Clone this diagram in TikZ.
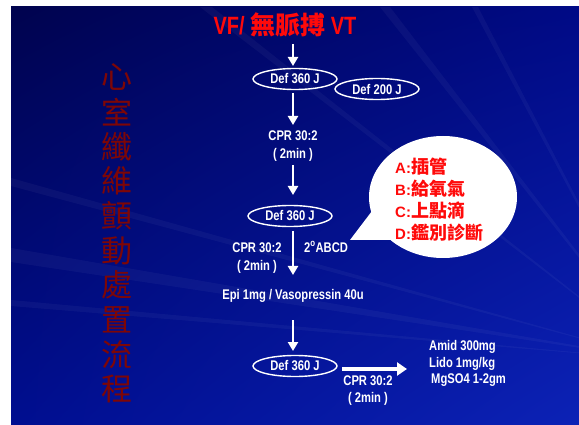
\documentclass[tikz,border=0pt]{standalone}
\usepackage{fontspec}
\setmainfont{Liberation Sans}
\newfontfamily\nar[FakeStretch=0.8]{Liberation Sans}
\newfontfamily\cjk{Noto Sans CJK TC}
\usetikzlibrary{arrows.meta,shapes.geometric,shadings}
\definecolor{titlered}{HTML}{FF0A0A}
\definecolor{darkred}{HTML}{7E0606}
\definecolor{bgul}{HTML}{00034E}
\definecolor{bgur}{HTML}{000A86}
\definecolor{bgll}{HTML}{000E90}
\definecolor{bglr}{HTML}{0C22B6}
\begin{document}
\begin{tikzpicture}[x=1pt,y=-1pt,
  lbl/.style={text=white,font=\nar\bfseries\fontsize{14}{16}\selectfont,inner sep=0pt,anchor=base},
  defell/.style={draw=white,line width=1.4pt,ellipse,minimum width=84pt,minimum height=21pt,inner sep=0pt,text=white,font=\nar\bfseries\fontsize{14}{16}\selectfont},
  varr/.style={draw=white,line width=2.6pt,-{Triangle[width=10pt,length=9pt]}},
  harr/.style={draw=white,line width=3.4pt,-{Triangle[width=13pt,length=10pt]}},
  vchar/.style={text=darkred,font=\cjk\fontsize{31}{31}\selectfont,inner sep=0pt},
  callt/.style={text=titlered,font=\bfseries\fontsize{15}{18}\selectfont,anchor=base west,inner sep=0pt},
  streak/.style={fill=white,opacity=0.04}]
\useasboundingbox (0,0) rectangle (579,425);
\fill[white] (0,0) rectangle (579,425);
\shade[upper left=bgul,upper right=bgur,lower left=bgll,lower right=bglr] (11,7) rectangle (579,425);
\begin{scope}
  \clip (11,7) rectangle (579,425);
  \fill[streak] (660,360) -- (11,248) -- (11,262) -- cycle;
  \fill[streak] (660,360) -- (11,178) -- (11,186) -- cycle;
  \fill[streak] (660,360) -- (11,300) -- (11,306) -- cycle;
  \fill[streak] (660,360) -- (380,7) -- (390,7) -- cycle;
  \fill[streak] (660,360) -- (472,7) -- (478,7) -- cycle;
  \fill[streak] (660,360) -- (200,7) -- (212,7) -- cycle;
\end{scope}

% title
\node[anchor=base,inner sep=0pt,text=titlered,font=\nar\bfseries\fontsize{25}{25}\selectfont] (title) at (285,35) {VF/ {\cjk\bfseries 無脈搏} VT};

% vertical title
\foreach \c [count=\i from 0] in {心,室,纖,維,顫,動,處,置,流,程}
  \node[vchar] (v\i) at (117,{77+34.7*\i}) {\c};

% flow nodes
\node[defell] (d1) at (295,79) {Def 360 J};
\node[defell] (d2) at (377,89) {Def 200 J};
\node[lbl] (c1) at (293,141) {CPR 30:2};
\node[lbl] (m1) at (293,159) {( 2min )};
\node[defell] (d3) at (290,216) {Def 360 J};
\node[lbl] (c2) at (257,252) {CPR 30:2};
\node[lbl] (m2) at (257,270) {( 2min )};
\node[lbl] (abcd) at (326,252) {2\textsuperscript{o}ABCD};
\node[lbl] (epi) at (293,299) {Epi 1mg / Vasopressin 40u};
\node[defell] (d4) at (295,366) {Def 360 J};
\node[lbl] (c3) at (368,385) {CPR 30:2};
\node[lbl] (m3) at (368,402) {( 2min )};
\node[lbl,anchor=base west] (amid) at (429,350) {Amid 300mg};
\node[lbl,anchor=base west] (lido) at (429,367) {Lido 1mg/kg};
\node[lbl,anchor=base west] (mg) at (431,383) {MgSO4 1-2gm};

% callout
\node[ellipse,fill=white,minimum width=148pt,minimum height=122pt,inner sep=0pt] (bubble) at (443,197) {};
\coordinate (tip) at (350,240);
\fill[white] (tip) -- (372,211) -- (410,222) -- (392,240) -- cycle;
\node[callt] (ca) at (395,174) {A:{\cjk\bfseries\fontsize{18}{18}\selectfont 插管}};
\node[callt] (cb) at (395,196) {B:{\cjk\bfseries\fontsize{18}{18}\selectfont 給氧氣}};
\node[callt] (cc) at (395,218) {C:{\cjk\bfseries\fontsize{18}{18}\selectfont 上點滴}};
\node[callt] (cd) at (395,240) {D:{\cjk\bfseries\fontsize{18}{18}\selectfont 鑑別診斷}};

% arrows
\coordinate (a1s) at (293,44);  \coordinate (a1e) at (293,66);
\coordinate (a2s) at (293,93);  \coordinate (a2e) at (293,125);
\coordinate (a3s) at (293,165); \coordinate (a3e) at (293,195);
\coordinate (a4s) at (293,231); \coordinate (a4e) at (293,275);
\coordinate (a5s) at (293,320); \coordinate (a5e) at (293,351);
\coordinate (h1s) at (342,369); \coordinate (h1e) at (407,369);
\draw[varr] (a1s) -- (a1e);
\draw[varr] (a2s) -- (a2e);
\draw[varr] (a3s) -- (a3e);
\draw[varr] (a4s) -- (a4e);
\draw[varr] (a5s) -- (a5e);
\draw[harr] (h1s) -- (h1e);
\end{tikzpicture}
\end{document}
